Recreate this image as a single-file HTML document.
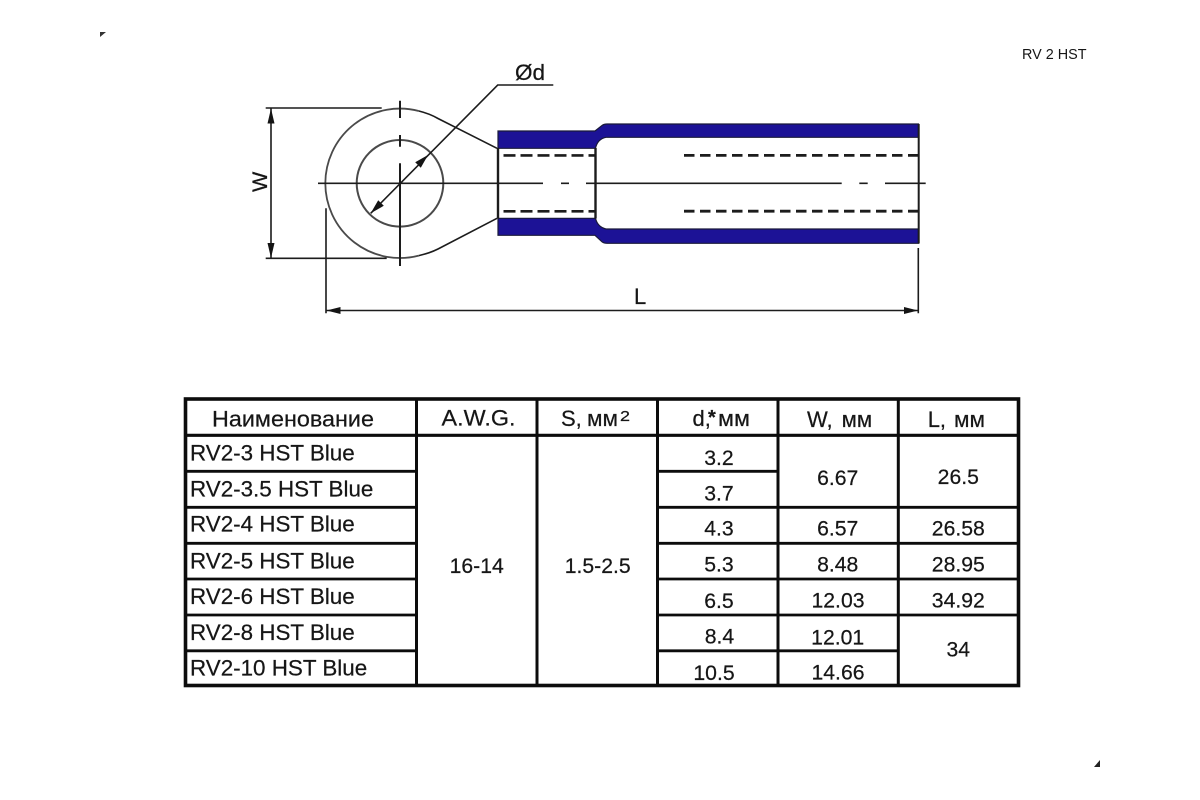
<!DOCTYPE html>
<html>
<head>
<meta charset="utf-8">
<style>
html,body{margin:0;padding:0;background:#fff}
svg{display:block;filter:blur(0.35px)}
text{font-family:"Liberation Sans",sans-serif;fill:#161616;stroke:#161616;stroke-width:0.22px}
.c{text-anchor:middle;font-size:21.2px}
.n{font-size:22.4px}
</style>
</head>
<body>
<svg width="1200" height="800" viewBox="0 0 1200 800" xmlns="http://www.w3.org/2000/svg">
<rect width="1200" height="800" fill="#fff"/>
<!-- corners -->
<polygon points="100,32 106,32 100,37" fill="#333"/>
<polygon points="1100,767 1094,767 1100,760" fill="#222"/>
<text x="1022" y="59" font-size="14.4" style="stroke:none">RV 2 HST</text>

<!-- sleeve -->
<g fill="#1c1296" stroke="#1a1a3a" stroke-width="1.2">
<path d="M498,131 H595 L602,125.5 Q604,124 607,124 H918.5 V137.3 H606 Q597.5,139 595.5,148.3 H498 Z"/>
<path d="M498,235.3 H595 L602,241.8 Q604,243.3 607,243.3 H918.5 V229 H606 Q597.5,227 595.5,218.3 H498 Z"/>
</g>
<g stroke="#1c1c1c" fill="none">
<path d="M498,148 V218.5" stroke-width="2.4"/>
<path d="M595.5,148 V218.5" stroke-width="2.4"/>
<path d="M918.7,124 V243.5" stroke-width="2"/>
<!-- dashed -->
<path d="M503.5,155.4 H595 M503.5,211.3 H595" stroke-width="2.6" stroke-dasharray="12,5"/>
<path d="M684,155.4 H918 M684,211.2 H918" stroke-width="2.8" stroke-dasharray="10.5,5.5"/>
</g>
<!-- ring -->
<g fill="none" stroke="#4a4a4a" stroke-width="1.8">
<path d="M418.8,111 A74.7,74.7 0 1 0 418.8,255.6"/>
<circle cx="400" cy="183.3" r="43.3" stroke-width="2"/>
</g>
<g fill="none" stroke="#1c1c1c" stroke-width="1.6">
<path d="M418.8,111 C427,113 432,115 438,118.5 L497,148.3"/>
<path d="M418.8,255.6 C427,253.8 432,252 438,249 L497,218.3"/>
<!-- center lines -->
<path d="M318,183.3 H543 M561,183.3 H569 M586,183.3 H841.7 M859.3,183.3 H867.7 M885,183.3 H925.7"/>
<path d="M400,100.7 V118 M400,135 V146.7 M400,163.3 V266" stroke-width="2"/>
<!-- leader -->
<path d="M553.3,85 H497.7 L370.7,213.3"/>
<!-- W -->
<path d="M265.7,108 H381.7 M265.7,258.3 H386.7 M271,108 V258.3"/>
<!-- L -->
<path d="M326,208.3 V313.3 M326,310.5 H918.5 M918.3,248 V313.3"/>
</g>
<g fill="#141414">
<polygon points="428,155 420.8,167.8 415.2,162.2"/>
<polygon points="370.7,213.3 383.8,205.8 378.2,200.2"/>
<polygon points="271,108.5 267.5,123.5 274.5,123.5"/>
<polygon points="271,258 267.5,243 274.5,243"/>
<polygon points="326.5,310.5 340.5,307 340.5,314"/>
<polygon points="918,310.5 904,307 904,314"/>
</g>
<text x="515" y="80" font-size="22.5">Ød</text>
<text x="634" y="304" font-size="22">L</text>
<text transform="translate(267,192) rotate(-90)" font-size="21.5">W</text>

<!-- table -->
<g fill="none" stroke="#0c0c0c">
<rect x="185.5" y="399" width="833" height="286.5" stroke-width="3.6"/>
<path stroke-width="3.2" d="M185,435.3 H1019"/>
<path stroke-width="3" d="M416.5,399 V686 M537,399 V686 M657.5,399 V686 M778,399 V686 M898.3,399 V686"/>
<path stroke-width="2.8" d="M185,471.3 H416 M657,471.3 H778
M185,507.3 H416 M657,507.3 H1019
M185,543.3 H416 M657,543.3 H1019
M185,579 H416 M657,579 H1019
M185,615 H416 M657,615 H1019
M185,650.8 H416 M657,650.8 H898"/>
</g>

<!-- header -->
<text x="212" y="426.7" font-size="22.3" textLength="162" lengthAdjust="spacingAndGlyphs">Наименование</text>
<text x="441.5" y="425.7" font-size="22" textLength="74" lengthAdjust="spacingAndGlyphs">A.W.G.</text>
<text x="561" y="426" font-size="22">S,</text>
<text x="587" y="426" font-size="22" textLength="31" lengthAdjust="spacingAndGlyphs">мм</text>
<text x="620" y="421" font-size="15" textLength="10" lengthAdjust="spacingAndGlyphs">2</text>
<text x="692.5" y="426" font-size="22">d,</text>
<text x="708" y="424" font-size="20" font-weight="bold">*</text>
<text x="718" y="426" font-size="22" textLength="32" lengthAdjust="spacingAndGlyphs">мм</text>
<text x="807" y="427" font-size="22">W,</text>
<text x="841.7" y="427" font-size="22" textLength="30.5" lengthAdjust="spacingAndGlyphs">мм</text>
<text x="927.7" y="427" font-size="22">L,</text>
<text x="954" y="427" font-size="22" textLength="31" lengthAdjust="spacingAndGlyphs">мм</text>

<!-- names -->
<text class="n" x="190" y="460.7">RV2-3 HST Blue</text>
<text class="n" x="190" y="496.7">RV2-3.5 HST Blue</text>
<text class="n" x="190" y="531.7">RV2-4 HST Blue</text>
<text class="n" x="190" y="568.3">RV2-5 HST Blue</text>
<text class="n" x="190" y="604">RV2-6 HST Blue</text>
<text class="n" x="190" y="640">RV2-8 HST Blue</text>
<text class="n" x="190" y="675.7">RV2-10 HST Blue</text>

<text class="c" x="476.7" y="573">16-14</text>
<text class="c" x="597.7" y="573">1.5-2.5</text>

<text class="c" x="719" y="465">3.2</text>
<text class="c" x="719" y="500.7">3.7</text>
<text class="c" x="719" y="535.7">4.3</text>
<text class="c" x="719" y="571.7">5.3</text>
<text class="c" x="719" y="608">6.5</text>
<text class="c" x="719.5" y="643.3">8.4</text>
<text class="c" x="714" y="680">10.5</text>

<text class="c" x="837.7" y="485">6.67</text>
<text class="c" x="837.7" y="535.7">6.57</text>
<text class="c" x="837.7" y="571.7">8.48</text>
<text class="c" x="838" y="607.7">12.03</text>
<text class="c" x="837.7" y="644.5">12.01</text>
<text class="c" x="838" y="679.3">14.66</text>

<text class="c" x="958.3" y="484">26.5</text>
<text class="c" x="958.3" y="535.7">26.58</text>
<text class="c" x="958.3" y="571.7">28.95</text>
<text class="c" x="958.3" y="607.7">34.92</text>
<text class="c" x="958.3" y="656.7">34</text>
</svg>
</body>
</html>
